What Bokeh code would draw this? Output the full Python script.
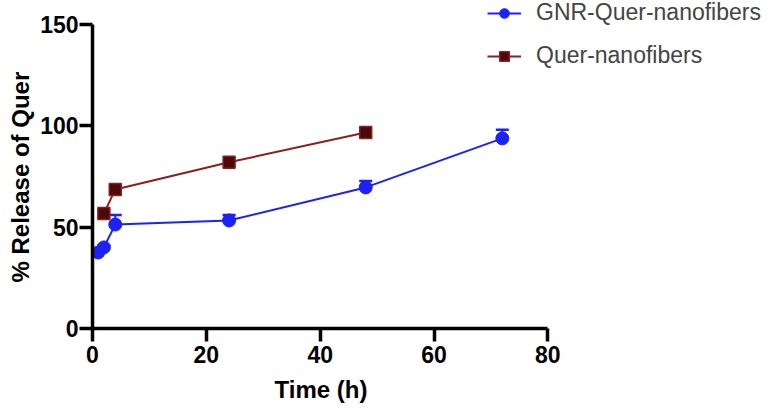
from bokeh.plotting import figure
from bokeh.models import ColumnDataSource, Whisker, TeeHead, Legend, LegendItem, Range1d, FixedTicker, Title
from bokeh.embed import file_html
from bokeh.resources import INLINE

# Data
gnr_time = [1, 2, 4, 24, 48, 72]
gnr_release = [37.5, 40.0, 51.3, 53.3, 69.6, 93.8]
gnr_upper = [38.5, 41.0, 56.0, 56.0, 72.8, 98.0]

quer_time = [2, 4, 24, 48]
quer_release = [56.7, 68.6, 82.0, 96.7]

x_ticks = [0, 20, 40, 60, 80]
y_ticks = [0, 50, 100, 150]
x_axis_bounds = (0, 80)
y_axis_bounds = (0, 150)

BLUE = "#1c22f5"
RED_LINE = "#8b1e1e"
RED_FILL = "#4a0a0a"
FONT = "Liberation Sans"

# frame extends past the axes' ends so the legend (top right) is not clipped
p = figure(width=779, height=410, output_backend="svg", toolbar_location=None,
           x_range=Range1d(0, 120.7), y_range=Range1d(0, 161.8),
           min_border_left=91, min_border_right=0, min_border_top=0, min_border_bottom=82)
p.outline_line_color = None
p.xgrid.visible = False
p.ygrid.visible = False

gsrc = ColumnDataSource(dict(x=gnr_time, y=gnr_release, up=gnr_upper))
qsrc = ColumnDataSource(dict(x=quer_time, y=quer_release))

gl = p.line("x", "y", source=gsrc, line_color=BLUE, line_width=2)
w = Whisker(source=gsrc, base="x", upper="up", lower="y", line_color=BLUE, line_width=2,
            upper_head=TeeHead(size=13, line_color=BLUE, line_width=2.5), lower_head=None)
p.add_layout(w)
gs = p.scatter("x", "y", source=gsrc, marker="circle", size=13, fill_color=BLUE, line_color=BLUE)

ql = p.line("x", "y", source=qsrc, line_color=RED_LINE, line_width=2)
qs = p.scatter("x", "y", source=qsrc, marker="square", size=12, fill_color=RED_FILL, line_color=RED_LINE, line_width=1.5)

for ax in (p.xaxis[0], p.yaxis[0]):
    ax.axis_line_width = 3.5
    ax.major_tick_line_width = 3.5
    ax.major_tick_out = 13
    ax.major_tick_in = 0
    ax.minor_tick_line_color = None
    ax.major_label_text_font = FONT
    ax.major_label_text_font_style = "bold"
    ax.major_label_text_font_size = "23px"
    ax.major_label_text_color = "black"
    ax.axis_line_color = "black"
    ax.major_tick_line_color = "black"

p.xaxis.bounds = x_axis_bounds
p.yaxis.bounds = y_axis_bounds
p.xaxis.ticker = FixedTicker(ticks=x_ticks)
p.yaxis.ticker = FixedTicker(ticks=y_ticks)
p.xaxis.major_label_standoff = 4
p.yaxis.major_label_standoff = 1

# axis titles, positioned along the axes' own extent
xt = Title(text="Time (h)", align="left", offset=182, standoff=16,
           text_font=FONT, text_font_style="bold", text_font_size="24px", text_color="black")
p.add_layout(xt, "below")
yt = Title(text="% Release of Quer", align="left", offset=46, standoff=8,
           text_font=FONT, text_font_style="bold", text_font_size="24px", text_color="black")
p.add_layout(yt, "left")

legend = Legend(items=[
    LegendItem(label="GNR-Quer-nanofibers", renderers=[gl, gs]),
    LegendItem(label="Quer-nanofibers", renderers=[ql, qs]),
], location=(395, 259))
legend.label_text_font = FONT
legend.label_text_font_size = "23px"
legend.glyph_width = 34
legend.glyph_height = 24
legend.label_height = 24
legend.spacing = 16
legend.label_standoff = 15
legend.padding = 0
legend.margin = 0
legend.border_line_color = None
legend.background_fill_alpha = 0
p.add_layout(legend, "center")

open("out.html", "w").write(file_html(p, INLINE))
